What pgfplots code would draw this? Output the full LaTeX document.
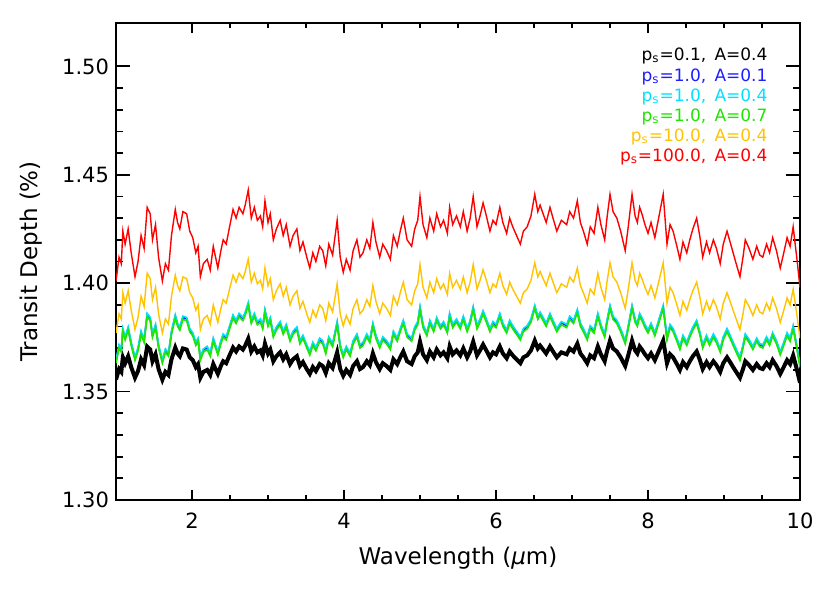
\documentclass[border=0pt]{standalone}
\usepackage{pgfplots}
\usepackage{pgfplotstable}
\pgfplotsset{compat=1.18}
\usepackage{fontspec}
\setmainfont{DejaVu Sans}

\definecolor{cblue}{RGB}{30,30,255}
\definecolor{ccyan}{RGB}{0,225,255}
\definecolor{cgreen}{RGB}{30,230,0}
\definecolor{corange}{RGB}{255,195,0}
\definecolor{cred}{RGB}{255,0,0}

% wavelength, then transit depth for each model
\pgfplotstableread{
x r o c b g k
1.00 1.401 1.3770 1.3646 1.3640 1.3631 1.3555
1.04 1.412 1.3859 1.3716 1.3710 1.3701 1.3604
1.07 1.409 1.3835 1.3697 1.3691 1.3682 1.3591
1.09 1.424 1.3956 1.3791 1.3785 1.3776 1.3658
1.12 1.418 1.3908 1.3753 1.3747 1.3738 1.3631
1.16 1.425 1.3965 1.3798 1.3792 1.3783 1.3663
1.20 1.414 1.3875 1.3728 1.3722 1.3713 1.3613
1.25 1.403 1.3786 1.3659 1.3653 1.3644 1.3564
1.29 1.410 1.3843 1.3703 1.3697 1.3688 1.3595
1.33 1.422 1.3940 1.3779 1.3773 1.3764 1.3649
1.37 1.416 1.3892 1.3741 1.3735 1.3726 1.3622
1.41 1.435 1.4046 1.3861 1.3855 1.3846 1.3708
1.45 1.432 1.4021 1.3842 1.3836 1.3827 1.3694
1.48 1.420 1.3924 1.3766 1.3760 1.3751 1.3640
1.52 1.427 1.3981 1.3810 1.3804 1.3795 1.3672
1.56 1.412 1.3859 1.3716 1.3710 1.3701 1.3604
1.61 1.401 1.3770 1.3646 1.3640 1.3631 1.3555
1.65 1.409 1.3835 1.3697 1.3691 1.3682 1.3591
1.69 1.406 1.3811 1.3678 1.3672 1.3663 1.3577
1.73 1.422 1.3940 1.3779 1.3773 1.3764 1.3649
1.78 1.434 1.4037 1.3854 1.3848 1.3839 1.3703
1.81 1.428 1.3989 1.3816 1.3810 1.3801 1.3676
1.84 1.425 1.3965 1.3798 1.3792 1.3783 1.3663
1.88 1.433 1.4029 1.3848 1.3842 1.3833 1.3699
1.93 1.432 1.4021 1.3842 1.3836 1.3827 1.3694
1.97 1.424 1.3956 1.3791 1.3785 1.3776 1.3658
2.01 1.421 1.3932 1.3772 1.3766 1.3757 1.3645
2.05 1.414 1.3875 1.3728 1.3722 1.3713 1.3613
2.08 1.417 1.3900 1.3747 1.3741 1.3732 1.3627
2.11 1.403 1.3786 1.3659 1.3653 1.3644 1.3564
2.15 1.409 1.3835 1.3697 1.3691 1.3682 1.3591
2.20 1.411 1.3851 1.3709 1.3703 1.3694 1.3600
2.24 1.406 1.3811 1.3678 1.3672 1.3663 1.3577
2.28 1.417 1.3900 1.3747 1.3741 1.3732 1.3627
2.31 1.412 1.3859 1.3716 1.3710 1.3701 1.3604
2.34 1.407 1.3819 1.3684 1.3678 1.3669 1.3582
2.38 1.415 1.3884 1.3735 1.3729 1.3720 1.3618
2.41 1.420 1.3924 1.3766 1.3760 1.3751 1.3640
2.45 1.418 1.3908 1.3753 1.3747 1.3738 1.3631
2.50 1.427 1.3981 1.3810 1.3804 1.3795 1.3672
2.54 1.434 1.4037 1.3854 1.3848 1.3839 1.3703
2.58 1.430 1.4005 1.3829 1.3823 1.3814 1.3685
2.62 1.435 1.4046 1.3861 1.3855 1.3846 1.3708
2.67 1.432 1.4021 1.3842 1.3836 1.3827 1.3694
2.70 1.436 1.4054 1.3867 1.3861 1.3852 1.3712
2.74 1.443 1.4110 1.3911 1.3905 1.3896 1.3744
2.78 1.430 1.4005 1.3829 1.3823 1.3814 1.3685
2.82 1.435 1.4046 1.3861 1.3855 1.3846 1.3708
2.86 1.429 1.3997 1.3823 1.3817 1.3808 1.3681
2.90 1.431 1.4013 1.3835 1.3829 1.3820 1.3690
2.93 1.426 1.3973 1.3804 1.3798 1.3789 1.3667
2.96 1.438 1.4070 1.3879 1.3873 1.3864 1.3721
3.00 1.428 1.3989 1.3816 1.3810 1.3801 1.3676
3.03 1.432 1.4021 1.3842 1.3836 1.3827 1.3694
3.07 1.420 1.3924 1.3766 1.3760 1.3751 1.3640
3.11 1.425 1.3965 1.3798 1.3792 1.3783 1.3663
3.16 1.429 1.3997 1.3823 1.3817 1.3808 1.3681
3.20 1.422 1.3940 1.3779 1.3773 1.3764 1.3649
3.24 1.427 1.3981 1.3810 1.3804 1.3795 1.3672
3.29 1.417 1.3900 1.3747 1.3741 1.3732 1.3627
3.33 1.422 1.3940 1.3779 1.3773 1.3764 1.3649
3.38 1.425 1.3965 1.3798 1.3792 1.3783 1.3663
3.42 1.415 1.3884 1.3735 1.3729 1.3720 1.3618
3.46 1.419 1.3916 1.3760 1.3754 1.3745 1.3636
3.51 1.412 1.3859 1.3716 1.3710 1.3701 1.3604
3.55 1.407 1.3819 1.3684 1.3678 1.3669 1.3582
3.59 1.414 1.3875 1.3728 1.3722 1.3713 1.3613
3.63 1.410 1.3843 1.3703 1.3697 1.3688 1.3595
3.68 1.417 1.3900 1.3747 1.3741 1.3732 1.3627
3.72 1.415 1.3884 1.3735 1.3729 1.3720 1.3618
3.76 1.408 1.3827 1.3690 1.3684 1.3675 1.3586
3.80 1.418 1.3908 1.3753 1.3747 1.3738 1.3631
3.85 1.413 1.3867 1.3722 1.3716 1.3707 1.3609
3.91 1.429 1.3997 1.3823 1.3817 1.3808 1.3681
3.95 1.412 1.3859 1.3716 1.3710 1.3701 1.3604
3.99 1.405 1.3803 1.3672 1.3666 1.3657 1.3573
4.03 1.411 1.3851 1.3709 1.3703 1.3694 1.3600
4.08 1.406 1.3811 1.3678 1.3672 1.3663 1.3577
4.12 1.415 1.3884 1.3735 1.3729 1.3720 1.3618
4.17 1.420 1.3924 1.3766 1.3760 1.3751 1.3640
4.21 1.412 1.3859 1.3716 1.3710 1.3701 1.3604
4.25 1.414 1.3875 1.3728 1.3722 1.3713 1.3613
4.30 1.420 1.3924 1.3766 1.3760 1.3751 1.3640
4.34 1.416 1.3892 1.3741 1.3735 1.3726 1.3622
4.38 1.428 1.3989 1.3816 1.3810 1.3801 1.3676
4.42 1.419 1.3916 1.3760 1.3754 1.3745 1.3636
4.47 1.412 1.3859 1.3716 1.3710 1.3701 1.3604
4.51 1.418 1.3908 1.3753 1.3747 1.3738 1.3631
4.56 1.415 1.3884 1.3735 1.3729 1.3720 1.3618
4.61 1.411 1.3851 1.3709 1.3703 1.3694 1.3600
4.65 1.422 1.3940 1.3779 1.3773 1.3764 1.3649
4.70 1.417 1.3900 1.3747 1.3741 1.3732 1.3627
4.74 1.424 1.3956 1.3791 1.3785 1.3776 1.3658
4.78 1.430 1.4005 1.3829 1.3823 1.3814 1.3685
4.83 1.420 1.3924 1.3766 1.3760 1.3751 1.3640
4.89 1.417 1.3900 1.3747 1.3741 1.3732 1.3627
4.93 1.425 1.3965 1.3798 1.3792 1.3783 1.3663
4.97 1.429 1.3997 1.3823 1.3817 1.3808 1.3681
5.00 1.440 1.4086 1.3892 1.3886 1.3877 1.3730
5.04 1.427 1.3981 1.3810 1.3804 1.3795 1.3672
5.09 1.421 1.3932 1.3772 1.3766 1.3757 1.3645
5.13 1.430 1.4005 1.3829 1.3823 1.3814 1.3685
5.18 1.424 1.3956 1.3791 1.3785 1.3776 1.3658
5.22 1.432 1.4021 1.3842 1.3836 1.3827 1.3694
5.27 1.426 1.3973 1.3804 1.3798 1.3789 1.3667
5.31 1.429 1.3997 1.3823 1.3817 1.3808 1.3681
5.36 1.423 1.3948 1.3785 1.3779 1.3770 1.3654
5.39 1.435 1.4046 1.3861 1.3855 1.3846 1.3708
5.43 1.427 1.3981 1.3810 1.3804 1.3795 1.3672
5.48 1.431 1.4013 1.3835 1.3829 1.3820 1.3690
5.53 1.426 1.3973 1.3804 1.3798 1.3789 1.3667
5.57 1.433 1.4029 1.3848 1.3842 1.3833 1.3699
5.62 1.424 1.3956 1.3791 1.3785 1.3776 1.3658
5.66 1.430 1.4005 1.3829 1.3823 1.3814 1.3685
5.70 1.440 1.4086 1.3892 1.3886 1.3877 1.3730
5.75 1.426 1.3973 1.3804 1.3798 1.3789 1.3667
5.79 1.431 1.4013 1.3835 1.3829 1.3820 1.3690
5.83 1.437 1.4062 1.3873 1.3867 1.3858 1.3717
5.88 1.430 1.4005 1.3829 1.3823 1.3814 1.3685
5.92 1.424 1.3956 1.3791 1.3785 1.3776 1.3658
5.96 1.429 1.3997 1.3823 1.3817 1.3808 1.3681
6.00 1.427 1.3981 1.3810 1.3804 1.3795 1.3672
6.05 1.435 1.4046 1.3861 1.3855 1.3846 1.3708
6.09 1.428 1.3989 1.3816 1.3810 1.3801 1.3676
6.14 1.423 1.3948 1.3785 1.3779 1.3770 1.3654
6.18 1.430 1.4005 1.3829 1.3823 1.3814 1.3685
6.22 1.426 1.3973 1.3804 1.3798 1.3789 1.3667
6.27 1.422 1.3940 1.3779 1.3773 1.3764 1.3649
6.32 1.418 1.3908 1.3753 1.3747 1.3738 1.3631
6.36 1.424 1.3956 1.3791 1.3785 1.3776 1.3658
6.41 1.426 1.3973 1.3804 1.3798 1.3789 1.3667
6.46 1.431 1.4013 1.3835 1.3829 1.3820 1.3690
6.51 1.441 1.4094 1.3898 1.3892 1.3883 1.3735
6.55 1.433 1.4029 1.3848 1.3842 1.3833 1.3699
6.58 1.436 1.4054 1.3867 1.3861 1.3852 1.3712
6.62 1.432 1.4021 1.3842 1.3836 1.3827 1.3694
6.66 1.428 1.3989 1.3816 1.3810 1.3801 1.3676
6.71 1.435 1.4046 1.3861 1.3855 1.3846 1.3708
6.75 1.430 1.4005 1.3829 1.3823 1.3814 1.3685
6.80 1.424 1.3956 1.3791 1.3785 1.3776 1.3658
6.86 1.429 1.3997 1.3823 1.3817 1.3808 1.3681
6.93 1.427 1.3981 1.3810 1.3804 1.3795 1.3672
6.97 1.433 1.4029 1.3848 1.3842 1.3833 1.3699
7.02 1.430 1.4005 1.3829 1.3823 1.3814 1.3685
7.07 1.438 1.4070 1.3879 1.3873 1.3864 1.3721
7.11 1.428 1.3989 1.3816 1.3810 1.3801 1.3676
7.15 1.424 1.3956 1.3791 1.3785 1.3776 1.3658
7.20 1.418 1.3908 1.3753 1.3747 1.3738 1.3631
7.24 1.426 1.3973 1.3804 1.3798 1.3789 1.3667
7.29 1.423 1.3948 1.3785 1.3779 1.3770 1.3654
7.34 1.435 1.4046 1.3861 1.3855 1.3846 1.3708
7.38 1.427 1.3981 1.3810 1.3804 1.3795 1.3672
7.43 1.420 1.3924 1.3766 1.3760 1.3751 1.3640
7.46 1.430 1.4005 1.3829 1.3823 1.3814 1.3685
7.50 1.441 1.4094 1.3898 1.3892 1.3883 1.3735
7.54 1.433 1.4029 1.3848 1.3842 1.3833 1.3699
7.59 1.430 1.4005 1.3829 1.3823 1.3814 1.3685
7.64 1.424 1.3956 1.3791 1.3785 1.3776 1.3658
7.70 1.415 1.3884 1.3735 1.3729 1.3720 1.3618
7.74 1.426 1.3973 1.3804 1.3798 1.3789 1.3667
7.79 1.441 1.4094 1.3898 1.3892 1.3883 1.3735
7.83 1.431 1.4013 1.3835 1.3829 1.3820 1.3690
7.86 1.428 1.3989 1.3816 1.3810 1.3801 1.3676
7.89 1.435 1.4046 1.3861 1.3855 1.3846 1.3708
7.92 1.432 1.4021 1.3842 1.3836 1.3827 1.3694
7.96 1.427 1.3981 1.3810 1.3804 1.3795 1.3672
8.00 1.423 1.3948 1.3785 1.3779 1.3770 1.3654
8.04 1.428 1.3989 1.3816 1.3810 1.3801 1.3676
8.09 1.421 1.3932 1.3772 1.3766 1.3757 1.3645
8.14 1.430 1.4005 1.3829 1.3823 1.3814 1.3685
8.20 1.441 1.4094 1.3898 1.3892 1.3883 1.3735
8.25 1.418 1.3908 1.3753 1.3747 1.3738 1.3631
8.29 1.427 1.3981 1.3810 1.3804 1.3795 1.3672
8.33 1.424 1.3956 1.3791 1.3785 1.3776 1.3658
8.38 1.417 1.3900 1.3747 1.3741 1.3732 1.3627
8.42 1.411 1.3851 1.3709 1.3703 1.3694 1.3600
8.46 1.419 1.3916 1.3760 1.3754 1.3745 1.3636
8.51 1.414 1.3875 1.3728 1.3722 1.3713 1.3613
8.55 1.420 1.3924 1.3766 1.3760 1.3751 1.3640
8.59 1.425 1.3965 1.3798 1.3792 1.3783 1.3663
8.64 1.430 1.4005 1.3829 1.3823 1.3814 1.3685
8.68 1.422 1.3940 1.3779 1.3773 1.3764 1.3649
8.72 1.412 1.3859 1.3716 1.3710 1.3701 1.3604
8.77 1.419 1.3916 1.3760 1.3754 1.3745 1.3636
8.81 1.414 1.3875 1.3728 1.3722 1.3713 1.3613
8.86 1.420 1.3924 1.3766 1.3760 1.3751 1.3640
8.90 1.416 1.3892 1.3741 1.3735 1.3726 1.3622
8.95 1.409 1.3835 1.3697 1.3691 1.3682 1.3591
8.99 1.418 1.3908 1.3753 1.3747 1.3738 1.3631
9.04 1.424 1.3956 1.3791 1.3785 1.3776 1.3658
9.08 1.419 1.3916 1.3760 1.3754 1.3745 1.3636
9.12 1.414 1.3875 1.3728 1.3722 1.3713 1.3613
9.16 1.409 1.3835 1.3697 1.3691 1.3682 1.3591
9.21 1.403 1.3786 1.3659 1.3653 1.3644 1.3564
9.25 1.412 1.3859 1.3716 1.3710 1.3701 1.3604
9.28 1.420 1.3924 1.3766 1.3760 1.3751 1.3640
9.33 1.416 1.3892 1.3741 1.3735 1.3726 1.3622
9.38 1.411 1.3851 1.3709 1.3703 1.3694 1.3600
9.43 1.417 1.3900 1.3747 1.3741 1.3732 1.3627
9.47 1.413 1.3867 1.3722 1.3716 1.3707 1.3609
9.51 1.412 1.3859 1.3716 1.3710 1.3701 1.3604
9.56 1.418 1.3908 1.3753 1.3747 1.3738 1.3631
9.60 1.414 1.3875 1.3728 1.3722 1.3713 1.3613
9.64 1.421 1.3932 1.3772 1.3766 1.3757 1.3645
9.69 1.415 1.3884 1.3735 1.3729 1.3720 1.3618
9.74 1.407 1.3819 1.3684 1.3678 1.3669 1.3582
9.78 1.413 1.3867 1.3722 1.3716 1.3707 1.3609
9.83 1.421 1.3932 1.3772 1.3766 1.3757 1.3645
9.87 1.417 1.3900 1.3747 1.3741 1.3732 1.3627
9.91 1.426 1.3973 1.3804 1.3798 1.3789 1.3667
9.96 1.411 1.3851 1.3709 1.3703 1.3694 1.3600
10.00 1.398 1.3746 1.3627 1.3621 1.3612 1.3541
}\spectra

\begin{document}
\begin{tikzpicture}
\begin{axis}[
  scale only axis,
  width=342pt, height=238.5pt,
  xmin=1, xmax=10, ymin=1.30, ymax=1.52,
  xtick={2,4,6,8,10}, minor x tick num=3,
  ytick={1.30,1.35,1.40,1.45,1.50}, minor y tick num=4,
  tick pos=both, tick align=inside,
  axis line style={line width=1pt},
  every tick/.style={black, line width=0.9pt},
  major tick length=7pt, minor tick length=3.5pt,
  xtick style={/pgfplots/major tick length=4.8pt, /pgfplots/minor tick length=2.4pt},
  /pgf/number format/assume math mode=true,
  yticklabel style={/pgf/number format/.cd, fixed, fixed zerofill, precision=2},
  tick label style={font=\fontsize{10.5}{12}\selectfont},
  xticklabel style={yshift=-3pt},
  label style={font=\fontsize{11.5}{13}\selectfont},
  xlabel={Wavelength ({\itshape μ}m)},
  ylabel={Transit Depth (\%)},
  xlabel style={yshift=-2pt},
  ylabel style={yshift=3pt},
  clip=true,
]
\addplot[black, line width=2pt] table[x=x, y=k] {\spectra};
\addplot[cblue, line width=0.8pt] table[x=x, y=b] {\spectra};
\addplot[ccyan, line width=0.8pt] table[x=x, y=c] {\spectra};
\addplot[cgreen, line width=0.8pt] table[x=x, y=g] {\spectra};
\addplot[corange, line width=0.7pt] table[x=x, y=o] {\spectra};
\addplot[cred, line width=0.7pt] table[x=x, y=r] {\spectra};
\node[anchor=north east, align=right, inner sep=0pt,
      font=\fontsize{8.5}{10.1}\selectfont]
  at (rel axis cs:0.953,0.948) {%
  \textcolor{black}{p\textsubscript{s}=0.1,\ \,A=0.4}\\
  \textcolor{cblue}{p\textsubscript{s}=1.0,\ \,A=0.1}\\
  \textcolor{ccyan}{p\textsubscript{s}=1.0,\ \,A=0.4}\\
  \textcolor{cgreen}{p\textsubscript{s}=1.0,\ \,A=0.7}\\
  \textcolor{corange}{p\textsubscript{s}=10.0,\ \,A=0.4}\\
  \textcolor{cred}{p\textsubscript{s}=100.0,\ \,A=0.4}};
\end{axis}
\pgfresetboundingbox
\path[use as bounding box] ([xshift=-58pt,yshift=-46.5pt]current axis.south west)
  rectangle ([xshift=15pt,yshift=11.5pt]current axis.north east);
\end{tikzpicture}
\end{document}
